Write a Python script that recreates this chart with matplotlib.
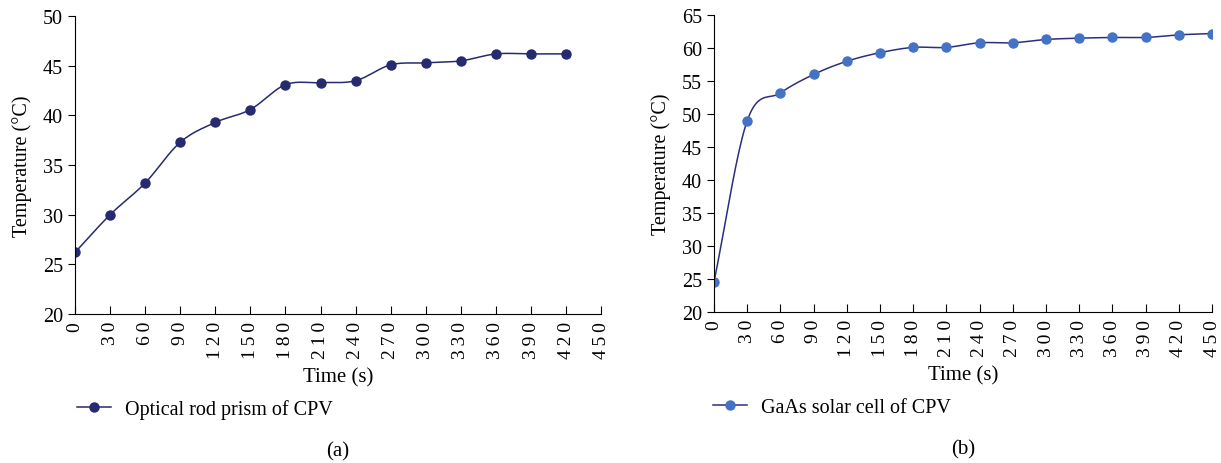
import numpy as np
import matplotlib.pyplot as plt

plt.rcParams['font.family'] = ['Liberation Serif', 'DejaVu Serif']

# Panel (a): optical rod prism
time_a = [0, 30, 60, 90, 120, 150, 180, 210, 240, 270, 300, 330, 360, 390, 420]
temp_a = [26.2, 30.0, 33.2, 37.3, 39.3, 40.6, 43.1, 43.3, 43.5, 45.1, 45.3, 45.5, 46.2, 46.2, 46.2]

# Panel (b): GaAs solar cell
time_b = [0, 30, 60, 90, 120, 150, 180, 210, 240, 270, 300, 330, 360, 390, 420, 450]
temp_b = [24.6, 49.0, 53.2, 56.0, 58.0, 59.3, 60.1, 60.1, 60.8, 60.8, 61.3, 61.5, 61.6, 61.6, 62.0, 62.2]

xticks = list(range(0, 451, 30))


def smooth(x, y, n=20):
    # Catmull-Rom spline through the points (like a spreadsheet's smoothed line)
    x = np.asarray(x, float)
    y = np.asarray(y, float)
    px = np.concatenate([[2 * x[0] - x[1]], x, [2 * x[-1] - x[-2]]])
    py = np.concatenate([[2 * y[0] - y[1]], y, [2 * y[-1] - y[-2]]])
    t = np.linspace(0, 1, n, endpoint=False)
    xs, ys = [], []
    for i in range(1, len(px) - 2):
        for p, out in ((px, xs), (py, ys)):
            p0, p1, p2, p3 = p[i - 1], p[i], p[i + 1], p[i + 2]
            out.append(0.5 * (2 * p1 + (-p0 + p2) * t
                              + (2 * p0 - 5 * p1 + 4 * p2 - p3) * t ** 2
                              + (-p0 + 3 * p1 - 3 * p2 + p3) * t ** 3))
    xs.append([x[-1]])
    ys.append([y[-1]])
    return np.concatenate(xs), np.concatenate(ys)


fig = plt.figure(figsize=(12.21, 4.64), dpi=100)
ax1 = fig.add_axes([0.0614, 0.321, 0.431, 0.642])
ax2 = fig.add_axes([0.5848, 0.3254, 0.4079, 0.640])

panels = [
    (ax1, time_a, temp_a, (20, 50), '#262a6e', '#262a6e', 'Optical rod prism of CPV', '(a)', -0.012),
    (ax2, time_b, temp_b, (20, 65), '#2b2f7c', '#4472c4', 'GaAs solar cell of CPV', '(b)', -0.018),
]

for ax, tx, ty, ylim, lc, mc, name, tag, lx in panels:
    sx, sy = smooth(tx, ty)
    ax.plot(sx, sy, color=lc, lw=1.1)
    ax.plot(tx, ty, 'o', color=mc, ms=6.5, lw=0)
    ax.plot([], [], color=lc, lw=1.1, marker='o', mfc=mc, mec=mc, ms=6.5, label=name)
    ax.set_xlim(0, 450)
    ax.set_ylim(*ylim)
    ax.set_xticks(xticks)
    # spaced-out digits like the original
    ax.set_xticklabels(['\u2009'.join(str(v)) for v in xticks], rotation=90)
    ax.set_yticks(np.arange(ylim[0], ylim[1] + 1, 5))
    ax.tick_params(axis='x', direction='in', length=6, labelsize=14, pad=5)
    ax.tick_params(axis='y', direction='out', length=5, labelsize=14.5)
    for s in ('top', 'right'):
        ax.spines[s].set_visible(False)
    ax.set_xlabel('Time (s)', fontsize=15)
    ax.xaxis.set_label_coords(0.5, -0.178)
    ax.set_ylabel('Temperature (°C)', fontsize=14.5, labelpad=8)
    ax.legend(loc='center left', bbox_to_anchor=(lx, -0.32), frameon=False,
              fontsize=14.5, handlelength=1.7, handletextpad=0.7, borderaxespad=0)
    ax.text(0.5, -0.46, tag, transform=ax.transAxes, ha='center', va='center', fontsize=15)

fig.savefig('out.png', dpi=100)
